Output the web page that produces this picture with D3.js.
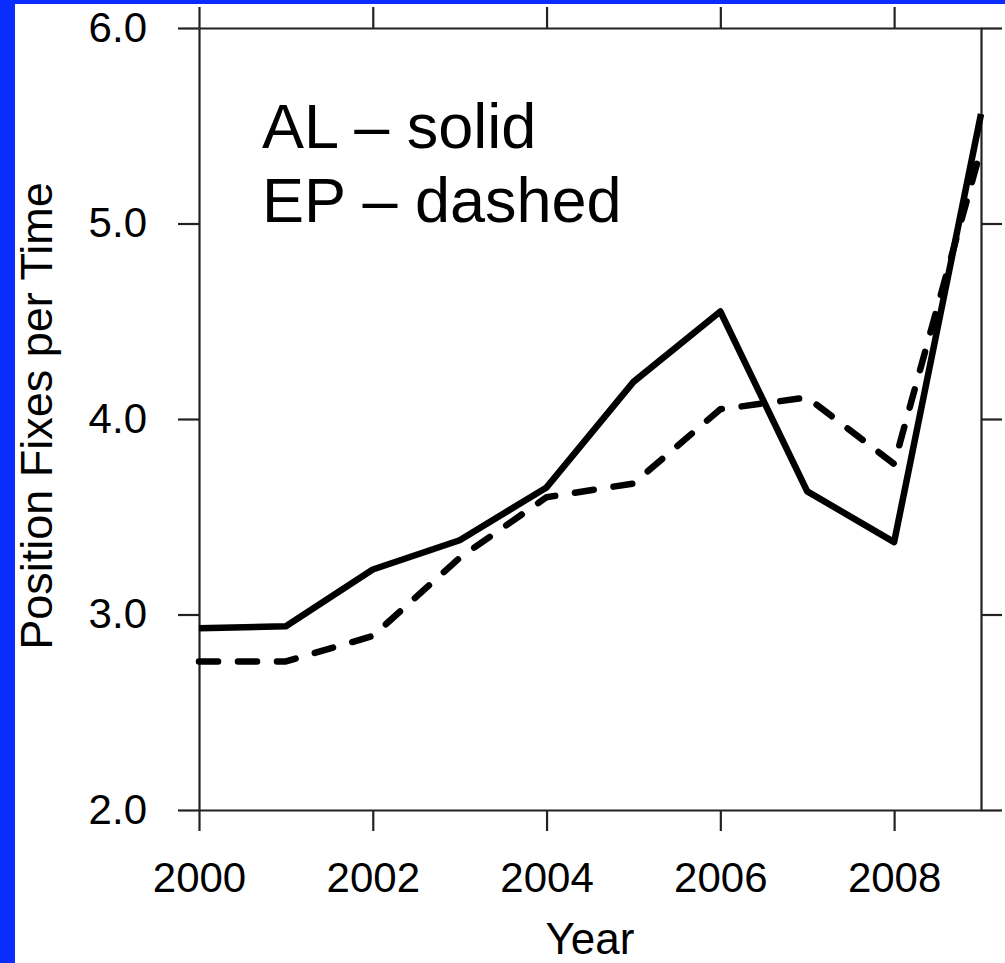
<!DOCTYPE html>
<html>
<head>
<meta charset="utf-8">
<script src="https://cdn.jsdelivr.net/npm/d3@7"></script>
<style>
  html, body { margin: 0; padding: 0; background: #fff; }
  svg { display: block; font-family: "Liberation Sans", Arial, Helvetica, sans-serif; }
</style>
</head>
<body>
<div id="chart"></div>
<script>
'use strict';

// values
const years = [2000, 2001, 2002, 2003, 2004, 2005, 2006, 2007, 2008, 2009];
const alFixes = [2.93, 2.94, 3.23, 3.38, 3.65, 4.19, 4.55, 3.63, 3.37, 5.56];
const epFixes = [2.76, 2.76, 2.89, 3.29, 3.60, 3.67, 4.05, 4.11, 3.77, 5.38];
const xTicks = [2000, 2002, 2004, 2006, 2008];
const yTicks = [2.0, 3.0, 4.0, 5.0, 6.0];
const legendLines = ['AL \u2013 solid', 'EP \u2013 dashed'];

const W = 1005, H = 963;
const plot = { left: 199, right: 981, top: 28, bottom: 810 };

const svg = d3.select('#chart').append('svg')
    .attr('width', W)
    .attr('height', H);

svg.append('rect')
    .attr('width', W)
    .attr('height', H)
    .attr('fill', '#fff');

const x = d3.scaleLinear()
    .domain([2000, 2009])
    .range([plot.left, plot.right]);

const y = d3.scaleLinear()
    .domain([2, 6])
    .range([plot.bottom, plot.top]);

const tickLen = 21;

// axes on all four sides, ticks outward
const axes = [
  { axis: d3.axisBottom(x).tickValues(xTicks).tickFormat(d3.format('d')), t: `translate(0,${plot.bottom})` },
  { axis: d3.axisTop(x).tickValues(xTicks).tickFormat(''), t: `translate(0,${plot.top})` },
  { axis: d3.axisLeft(y).tickValues(yTicks).tickFormat(d3.format('.1f')), t: `translate(${plot.left},0)` },
  { axis: d3.axisRight(y).tickValues(yTicks).tickFormat(''), t: `translate(${plot.right},0)` }
];

axes.forEach(a => {
  const g = svg.append('g')
      .attr('transform', a.t)
      .call(a.axis.tickSize(tickLen).tickSizeOuter(0).tickPadding(31));
  g.select('.domain').attr('stroke', '#222').attr('stroke-width', 2.2);
  g.selectAll('.tick line').attr('stroke', '#222').attr('stroke-width', 2.2);
  g.selectAll('.tick text')
      .attr('fill', '#000')
      .style('font-size', '42px')
      .style('font-family', '"Liberation Sans", Arial, Helvetica, sans-serif');
});

// lines
const line = d3.line()
    .x(d => x(d[0]))
    .y(d => y(d[1]));

svg.append('path')
    .datum(d3.zip(years, epFixes))
    .attr('d', line)
    .attr('fill', 'none')
    .attr('stroke', '#000')
    .attr('stroke-width', 6.5)
    .attr('stroke-linecap', 'round')
    .attr('stroke-linejoin', 'round')
    .attr('stroke-dasharray', '19,20');

svg.append('path')
    .datum(d3.zip(years, alFixes))
    .attr('d', line)
    .attr('fill', 'none')
    .attr('stroke', '#000')
    .attr('stroke-width', 6.5)
    .attr('stroke-linejoin', 'round');

// legend text
svg.append('g')
    .selectAll('text')
    .data(legendLines)
  .enter().append('text')
    .attr('x', 262)
    .attr('y', (d, i) => 148 + i * 74)
    .attr('fill', '#000')
    .style('font-size', '63px')
    .text(d => d);

// axis titles
svg.append('text')
    .attr('x', (plot.left + plot.right) / 2)
    .attr('y', 954)
    .attr('text-anchor', 'middle')
    .attr('fill', '#000')
    .style('font-size', '44px')
    .text('Year');

svg.append('text')
    .attr('transform', `translate(52,416) rotate(-90)`)
    .attr('text-anchor', 'middle')
    .attr('fill', '#000')
    .style('font-size', '45px')
    .text('Position Fixes per Time');

// blue slide border
svg.append('rect').attr('x', 0).attr('y', 0).attr('width', 15).attr('height', H).attr('fill', '#0a2cff');
svg.append('rect').attr('x', 0).attr('y', 0).attr('width', W).attr('height', 4).attr('fill', '#0a2cff');
</script>
</body>
</html>
